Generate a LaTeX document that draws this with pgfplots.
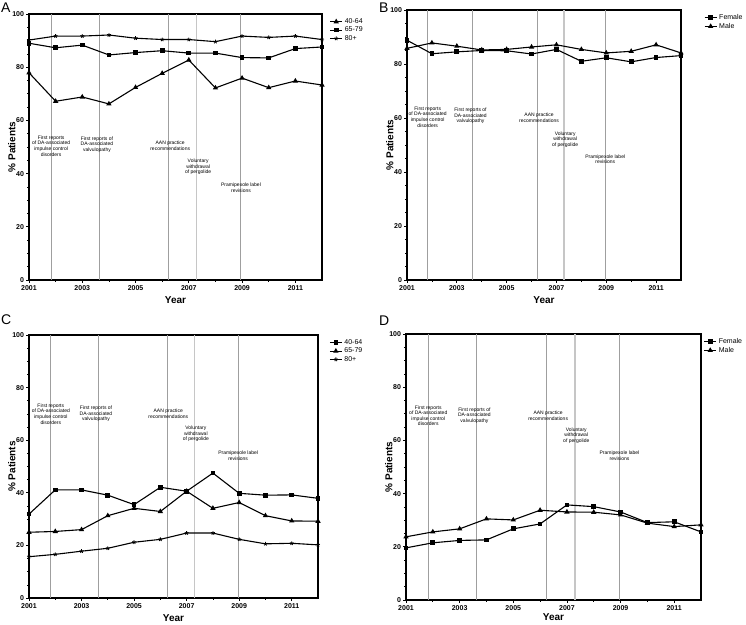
\documentclass[border=0pt]{standalone}
\usepackage{pgfplots}
\pgfplotsset{compat=1.18}
\usepackage{fontspec}
\setmainfont{Liberation Sans}
\tikzset{ann/.style={font=\fontsize{5}{5.6}\selectfont, align=center, inner sep=0pt}}
\pgfplotsset{
  panel/.style={
    scale only axis, anchor=south west,
    xmin=2001, xmax=2012, ymin=0, ymax=100,
    xtick={2001,2003,...,2011}, minor x tick num=1,
    ytick={0,20,...,100}, minor y tick num=3,
    tick align=outside, xtick pos=left, ytick pos=left,
    axis line style={line width=1.3pt},
    major tick length=3pt, minor tick length=1.8pt,
    every tick/.style={black, line width=0.7pt},
    ticklabel style={font=\fontsize{7}{8}\selectfont\bfseries},
    xticklabel style={yshift=1pt},
    yticklabel style={xshift=1.5pt},
    /pgf/number format/assume math mode=true,
    /pgf/number format/1000 sep={},
    xlabel={Year}, ylabel={\% Patients},
    label style={font=\fontsize{10}{12}\selectfont\bfseries},
    xlabel style={yshift=1pt},
    ylabel style={yshift=-10pt},
    legend style={draw=none, fill=none, font=\fontsize{7}{9}\selectfont, row sep=-2pt, inner sep=1pt},
    legend cell align=left,
    legend image code/.code={\draw[mark repeat=2,mark phase=2] plot coordinates {(0pt,0pt)(6pt,0pt)(12pt,0pt)};},
    every axis plot/.append style={black, line width=1.1pt},
  },
  sq/.style={mark=square*, mark size=1.8pt, mark options={solid}},
  tri/.style={mark=triangle*, mark size=2pt, mark options={solid}},
  st/.style={mark=star, mark size=2pt, mark options={solid, line width=0.8pt}},
  vl/.style={gray!75, line width=0.7pt, forget plot, mark=none},
  vlb/.style={gray!45, line width=1.3pt, forget plot, mark=none},
}
\newcommand{\vlines}{%
  \addplot[vl] coordinates {(2001.83,0)(2001.83,100)};
  \addplot[vl] coordinates {(2003.64,0)(2003.64,100)};
  \addplot[vl] coordinates {(2006.25,0)(2006.25,100)};
  \addplot[vlb] coordinates {(2007.3,0)(2007.3,100)};
  \addplot[vl] coordinates {(2008.95,0)(2008.95,100)};
}
\newcommand{\annots}[5]{%
  \node[ann] at (axis cs:2001.83,#1) {First reports\\of DA-associated\\impulse control\\disorders};
  \node[ann] at (axis cs:2003.55,#2) {First reports of\\DA-associated\\valvulopathy};
  \node[ann] at (axis cs:2006.3,#3) {AAN practice\\recommendations};
  \node[ann] at (axis cs:2007.35,#4) {Voluntary\\withdrawal\\of pergolide};
  \node[ann] at (axis cs:2008.96,#5) {Pramipexole label\\revisions};
}
\begin{document}
\begin{tikzpicture}
\useasboundingbox (0pt,0pt) rectangle (746pt,624pt);
\node[anchor=north west, inner sep=0pt, font=\fontsize{14}{14}\selectfont] at (1pt,621pt) {A};
\node[anchor=north west, inner sep=0pt, font=\fontsize{14}{14}\selectfont] at (379pt,621pt) {B};
\node[anchor=north west, inner sep=0pt, font=\fontsize{14}{14}\selectfont] at (1pt,309pt) {C};
\node[anchor=north west, inner sep=0pt, font=\fontsize{14}{14}\selectfont] at (379pt,308pt) {D};

% Panel A
\begin{axis}[panel, at={(29pt,344pt)}, width=293pt, height=266pt,
  legend style={at={(1.022,0.995)}, anchor=north west}]
\vlines
\annots{50.4}{51}{50.4}{42.5}{34.6}
\addplot[tri] coordinates {(2001,77.9)(2002,67.2)(2003,68.8)(2004,66.2)(2005,72.4)(2006,77.7)(2007,82.7)(2008,72.2)(2009,75.9)(2010,72.3)(2011,74.8)(2012,73.3)};
\addlegendentry{40-64}
\addplot[sq] coordinates {(2001,89.0)(2002,87.3)(2003,88.3)(2004,84.6)(2005,85.5)(2006,86.2)(2007,85.3)(2008,85.3)(2009,83.6)(2010,83.5)(2011,87.0)(2012,87.6)};
\addlegendentry{65-79}
\addplot[st] coordinates {(2001,90.2)(2002,91.7)(2003,91.7)(2004,92.1)(2005,90.9)(2006,90.4)(2007,90.4)(2008,89.6)(2009,91.7)(2010,91.2)(2011,91.7)(2012,90.4)};
\addlegendentry{80+}
\end{axis}

% Panel B
\begin{axis}[panel, at={(407pt,344pt)}, width=274pt, height=270pt,
  legend style={at={(1.08,0.995)}, anchor=north west}]
\vlines
\annots{60.4}{60.7}{60}{52}{44.8}
\addplot[sq] coordinates {(2001,88.8)(2002,83.8)(2003,84.5)(2004,85.0)(2005,84.9)(2006,83.7)(2007,85.4)(2008,81.0)(2009,82.3)(2010,80.8)(2011,82.4)(2012,83.1)};
\addlegendentry{Female}
\addplot[tri] coordinates {(2001,85.8)(2002,87.8)(2003,86.6)(2004,85.2)(2005,85.4)(2006,86.3)(2007,87.1)(2008,85.4)(2009,84.1)(2010,84.7)(2011,87.1)(2012,84.1)};
\addlegendentry{Male}
\end{axis}

% Panel C
\begin{axis}[panel, at={(29pt,26pt)}, width=289pt, height=263pt,
  legend style={at={(1.035,0.995)}, anchor=north west}]
\vlines
\annots{70}{70}{70}{62.4}{54}
\addplot[sq] coordinates {(2001,31.9)(2002,41.1)(2003,41.1)(2004,39.1)(2005,35.5)(2006,42.1)(2007,40.6)(2008,47.5)(2009,39.8)(2010,39.1)(2011,39.2)(2012,37.9)};
\addlegendentry{40-64}
\addplot[tri] coordinates {(2001,25.0)(2002,25.3)(2003,26.0)(2004,31.3)(2005,34.1)(2006,32.9)(2007,40.6)(2008,34.1)(2009,36.3)(2010,31.3)(2011,29.3)(2012,29.2)};
\addlegendentry{65-79}
\addplot[st] coordinates {(2001,15.7)(2002,16.6)(2003,17.8)(2004,18.9)(2005,21.2)(2006,22.3)(2007,24.7)(2008,24.7)(2009,22.3)(2010,20.6)(2011,20.8)(2012,20.2)};
\addlegendentry{80+}
\end{axis}

% Panel D
\begin{axis}[panel, at={(406pt,24pt)}, width=295pt, height=266pt,
  xlabel style={yshift=3pt},
  legend style={at={(1.005,0.995)}, anchor=north west}]
\vlines
\annots{69.3}{69.3}{69.3}{61.8}{54.3}
\addplot[sq] coordinates {(2001,19.6)(2002,21.5)(2003,22.4)(2004,22.6)(2005,26.75)(2006,28.6)(2007,35.75)(2008,35.1)(2009,33.1)(2010,29.1)(2011,29.4)(2012,25.6)};
\addlegendentry{Female}
\addplot[tri] coordinates {(2001,23.75)(2002,25.6)(2003,26.75)(2004,30.5)(2005,30.1)(2006,33.75)(2007,33.1)(2008,33.0)(2009,32.0)(2010,28.9)(2011,27.6)(2012,28.25)};
\addlegendentry{Male}
\end{axis}
\end{tikzpicture}
\end{document}
